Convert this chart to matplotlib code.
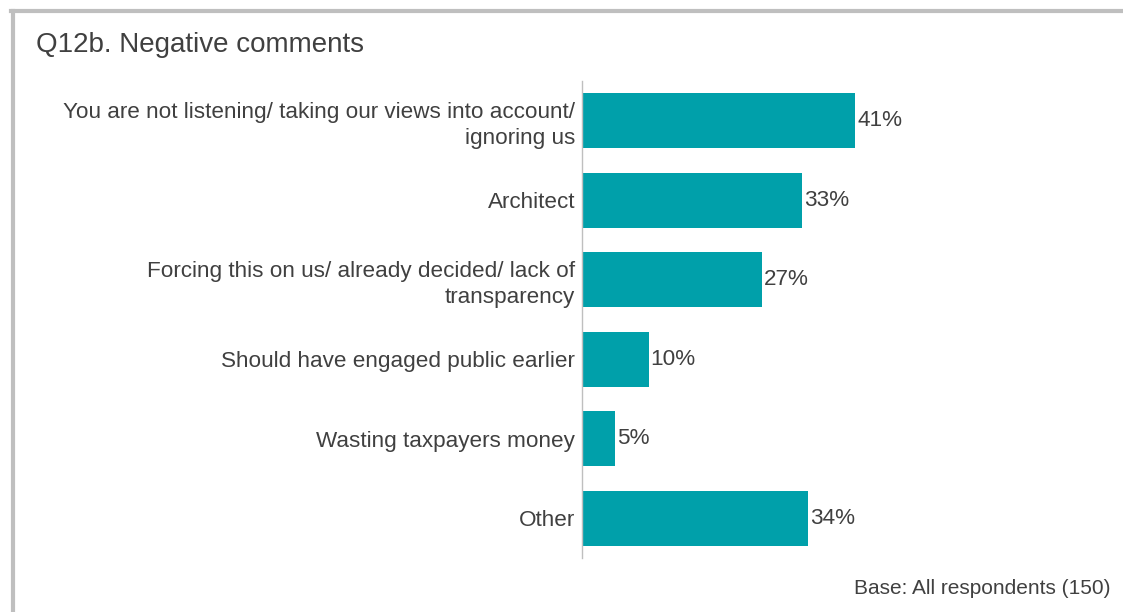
import matplotlib.pyplot as plt
from matplotlib.lines import Line2D

plt.rcParams["font.family"] = ["Liberation Sans", "DejaVu Sans"]

categories = [
    "You are not listening/ taking our views into account/\nignoring us",
    "Architect",
    "Forcing this on us/ already decided/ lack of\ntransparency",
    "Should have engaged public earlier",
    "Wasting taxpayers money",
    "Other",
]
values = [41, 33, 27, 10, 5, 34]

bar_color = "#00A0AA"
text_color = "#404040"

W, H = 1123, 612
fig = plt.figure(figsize=(W / 100, H / 100), dpi=100)

# frame lines (top and left)
fig.add_artist(Line2D([11 / W, 1], [1 - 10.5 / H] * 2, color="#BFBFBF", lw=3))
fig.add_artist(Line2D([12.5 / W] * 2, [0, 1 - 10.5 / H], color="#BFBFBF", lw=3))

ax = fig.add_axes([582 / W, (H - 558) / H, (1100 - 582) / W, (558 - 81) / H])
y = list(range(len(categories)))
ax.barh(y, values, height=0.69, color=bar_color)
ax.set_ylim(len(categories) - 0.5, -0.5)
ax.set_xlim(0, 518 / 6.66)
ax.set_yticks(y)
ax.set_yticklabels(categories, fontsize=16.2, color=text_color, ha="right",
                   multialignment="right", linespacing=1.3)
ax.tick_params(axis="y", length=0, pad=5)
ax.set_xticks([])
for s in ["top", "right", "bottom"]:
    ax.spines[s].set_visible(False)
ax.spines["left"].set_color("#BFBFBF")
ax.spines["left"].set_linewidth(1)

for yi, v in zip(y, values):
    ax.text(v + 0.3, yi, f"{v}%", va="center", ha="left", fontsize=16.2,
            color=text_color)

fig.text(36 / W, 1 - 45 / H, "Q12b. Negative comments", fontsize=20,
         color=text_color, va="center", ha="left")
fig.text(1110 / W, 1 - 588 / H, "Base: All respondents (150)", fontsize=15,
         color=text_color, va="center", ha="right")

fig.savefig("out.png", dpi=100)
